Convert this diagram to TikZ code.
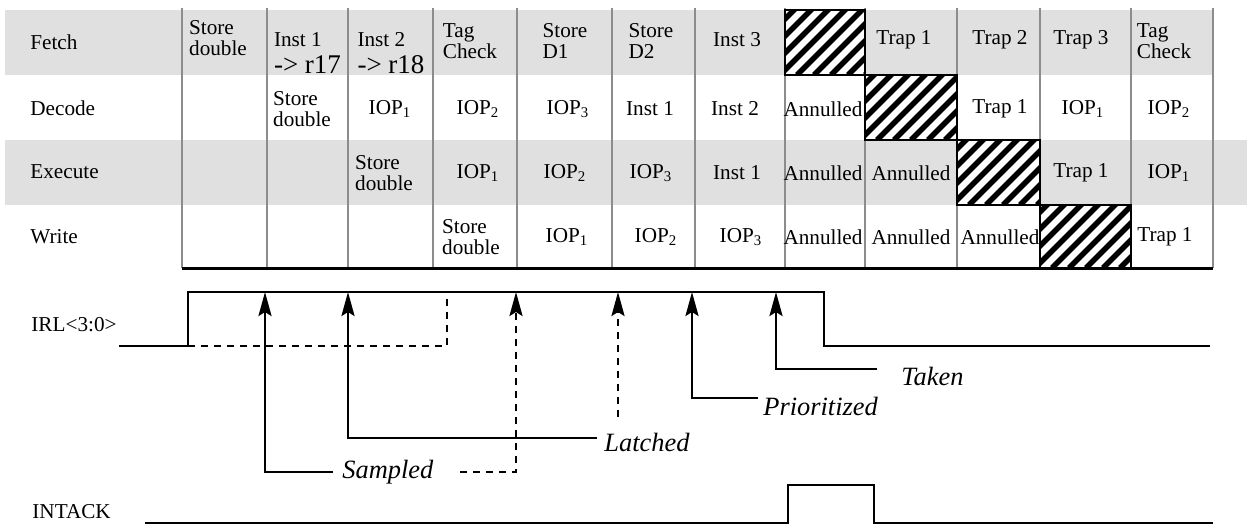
\documentclass[tikz,border=0pt]{standalone}
\usepackage{fontspec}
\setmainfont{Liberation Serif}
\usepackage{tikz}
\usetikzlibrary{arrows.meta}

\definecolor{bandgray}{gray}{0.88}
\definecolor{rulegray}{gray}{0.55}

\begin{document}
\begin{tikzpicture}[x=0.5pt, y=-0.5pt,
  font=\fontsize{10.6}{10.6}\selectfont,
  cell/.style={align=left, inner sep=0pt},
  rowlabel/.style={anchor=west, inner sep=0pt},
  evt/.style={anchor=west, inner sep=0pt, font=\fontsize{13.2}{14}\selectfont\itshape},
  sig/.style={line width=1.3pt},
  sigdash/.style={line width=1.3pt, dash pattern=on 3.5pt off 3pt},
  uparrow/.style={-{Stealth[length=12pt, width=6.5pt, inset=2pt]}},
  hatch/.style={line width=2.8pt}
]
  \useasboundingbox (0,0) rectangle (1247,525);

  % Shaded stages (Fetch and Execute)
  \fill[bandgray] (5,10)  rectangle (1213,75);
  \fill[bandgray] (5,140) rectangle (1247,205);

  % Stage names
  \node[rowlabel] (fetch)   at (30,42)  {Fetch};
  \node[rowlabel] (decode)  at (30,108) {Decode};
  \node[rowlabel] (execute) at (30,172) {Execute};
  \node[rowlabel] (write)   at (30,237) {Write};

  % Cycle boundaries
  \foreach \x in {182,267,348,433,517,612,695,785,865,957,1040,1131,1213}
    \draw[rulegray, line width=1pt] (\x,8) -- (\x,268);
  \draw[line width=1.5pt] (182,268) -- (1213,268);

  % Hatched (empty) slots
  \foreach \xa/\ya/\xb/\yb in {785/10/865/75, 865/75/957/140, 957/140/1040/205, 1040/205/1131/268} {
    \begin{scope}
      \clip (\xa,\ya) rectangle (\xb,\yb);
      \fill[white] (\xa,\ya) rectangle (\xb,\yb);
      \foreach \s in {-90,-73,...,100}
        \draw[hatch] (\xa+\s,\yb) -- ++(100,-100);
    \end{scope}
    \draw[line width=1.2pt] (\xa,\ya) rectangle (\xb,\yb);
  }

  % Fetch
  \foreach \x/\y/\txt [count=\i] in {218/38/{Store\\double},
      307.5/53/{Inst 1\\[3pt]{\fontsize{13.5}{13.5}\selectfont -> r17}},
      391/53/{Inst 2\\[3pt]{\fontsize{13.5}{13.5}\selectfont -> r18}},
      470/41/{Tag\\Check}, 565/41/{Store\\D1}, 651/41/{Store\\D2},
      737/40/{Inst 3}, 904/40/{Trap 1}, 1000/40/{Trap 2},
      1081/40/{Trap 3}, 1164/41/{Tag\\Check}}
    \node[cell] (f\i) at (\x,\y) {\txt};

  % Decode
  \foreach \x/\txt [count=\i] in {302/{Store\\double}, 390/IOP\textsubscript{1},
      478/IOP\textsubscript{2}, 568/IOP\textsubscript{3}, 650/{Inst 1},
      735/{Inst 2}, 823/Annulled, 1000/{Trap 1},
      1083/IOP\textsubscript{1}, 1169/IOP\textsubscript{2}}
    \node[cell] (d\i) at (\x,109) {\txt};

  % Execute
  \foreach \x/\txt [count=\i] in {384/{Store\\double}, 478/IOP\textsubscript{1},
      565/IOP\textsubscript{2}, 651/IOP\textsubscript{3}, 737/{Inst 1},
      823/Annulled, 911/Annulled, 1081/{Trap 1}, 1169/IOP\textsubscript{1}}
    \node[cell] (e\i) at (\x,173) {\txt};

  % Write
  \foreach \x/\txt [count=\i] in {471/{Store\\double}, 567/IOP\textsubscript{1},
      656/IOP\textsubscript{2}, 741/IOP\textsubscript{3}, 823/Annulled,
      911/Annulled, 1000/Annulled, 1165/{Trap 1}}
    \node[cell] (w\i) at (\x,237) {\txt};

  % Signal names
  \node[rowlabel] (irl)    at (31,325) {IRL<3:0>};
  \node[rowlabel] (intack) at (32,512) {INTACK};

  % IRL<3:0> waveform
  \draw[sig] (119,346) -| (188,292) -- (824,292) |- (1210,346);
  \draw[sigdash] (188,346) -- (447,346) -- (447,292);

  % INTACK waveform
  \draw[sig] (145,523) -| (788,485) -| (874,523) -- (1213,523);

  % Interrupt handling events
  \node[evt] (sampled) at (342,472) {Sampled};
  \node[evt] (latched) at (604,442) {Latched};
  \node[evt] (prior)   at (763,406) {Prioritized};
  \node[evt] (taken)   at (901,376) {Taken};

  \coordinate (sampledEnd) at (333,472);  \coordinate (sampledTip) at (265,292);
  \coordinate (sampledDsh) at (460,472);  \coordinate (sampledTip2) at (516,292);
  \coordinate (latchedEnd) at (597,438);  \coordinate (latchedTip) at (348,292);
  \coordinate (latchedDsh) at (618,417);  \coordinate (latchedTip2) at (618,292);
  \coordinate (priorEnd)   at (758,398);  \coordinate (priorTip)   at (692,292);
  \coordinate (takenEnd)   at (877,369);  \coordinate (takenTip)   at (776,292);

  \draw[sig, uparrow] (sampledEnd) -| (sampledTip);
  \draw[sigdash, uparrow] (sampledDsh) -| (sampledTip2);
  \draw[sig, uparrow] (latchedEnd) -| (latchedTip);
  \draw[sigdash, uparrow] (latchedDsh) -- (latchedTip2);
  \draw[sig, uparrow] (priorEnd) -| (priorTip);
  \draw[sig, uparrow] (takenEnd) -| (takenTip);
\end{tikzpicture}
\end{document}
